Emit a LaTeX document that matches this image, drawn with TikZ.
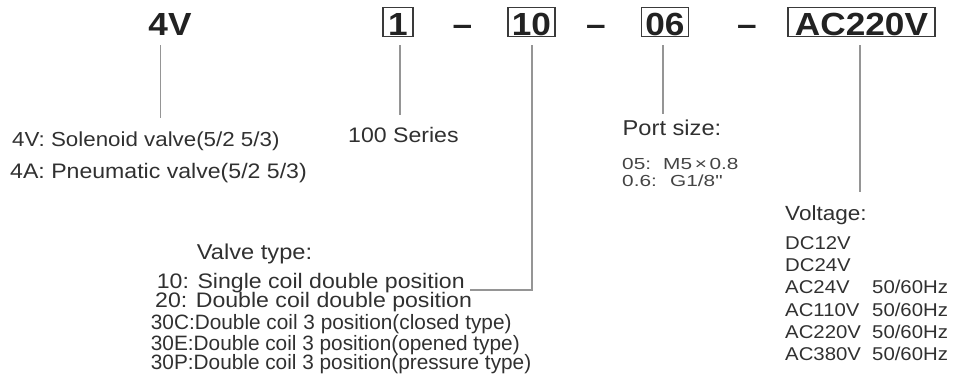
\documentclass[tikz,border=0pt]{standalone}
\usepackage{fontspec}
\setmainfont{Liberation Sans}[FakeStretch=1.1]
\newfontfamily\portfont{Liberation Sans}[FakeStretch=1.3]
\newfontfamily\narrowfont{Liberation Sans}
\definecolor{txt}{HTML}{303030}
\definecolor{txtl}{HTML}{444444}
\definecolor{boldc}{HTML}{222222}
\definecolor{boxc}{HTML}{3A3A3A}
\definecolor{linec}{HTML}{959595}
\begin{document}
\begin{tikzpicture}[x=1pt,y=-1pt,
  lbl/.style={anchor=base west, inner sep=0pt, text=txt, font=\fontsize{21}{25}\selectfont},
  small/.style={anchor=base west, inner sep=0pt, text=txt, font=\narrowfont\fontsize{20.8}{24}\selectfont},
  volt/.style={anchor=base west, inner sep=0pt, text=txt, font=\fontsize{18.5}{22}\selectfont},
  port/.style={anchor=base west, inner sep=0pt, text=txtl, font=\portfont\fontsize{16}{18}\selectfont},
  code/.style={anchor=base, inner sep=0pt, text=boldc, font=\bfseries\fontsize{32}{32}\selectfont},
  codebox/.style={code, draw=boxc, line width=1.4pt, inner xsep=0pt, text height=27.5pt, text depth=1.5pt},
  conn/.style={draw=linec, line width=1.2pt}]
\useasboundingbox (0,0) rectangle (954,382);

% top code row
\node[code] (v4) at (170,35.3) {4V};
\node[codebox, minimum width=30pt] (b1) at (398,35.3) {1};
\node[code] (d1) at (462.5,35.3) {–};
\node[codebox, minimum width=47pt] (b10) at (531.5,35.3) {10};
\node[code] (d2) at (596,35.3) {–};
\node[codebox, minimum width=46.6pt] (b06) at (665,35.3) {06};
\node[code] (d3) at (747,35.3) {–};
\node[codebox, minimum width=147pt] (bac) at (861.5,35.3) {AC220V};

% connector end points
\coordinate (e4v) at (160.5,118);
\coordinate (e1) at (400,115);
\coordinate (e10a) at (532,290);
\coordinate (e10b) at (470,290);
\coordinate (e06) at (663,114);
\coordinate (eac) at (860,192);

\draw[conn] (e4v |- v4.south) ++(0,10) -- (e4v);
\draw[conn] (e1 |- b1.south) ++(0,8) -- (e1);
\draw[conn] (e10a |- b10.south) ++(0,8) -- (e10a) -- (e10b);
\draw[conn] (e06 |- b06.south) ++(0,8) -- (e06);
\draw[conn] (eac |- bac.south) ++(0,8) -- (eac);

% series description
\node[lbl, font=\fontsize{20.3}{25}\selectfont] (sol) at (12,146.5) {4V: Solenoid valve(5/2 5/3)};
\node[lbl] (pne) at (10,178.5) {4A: Pneumatic valve(5/2 5/3)};
\node[lbl] (ser) at (348,143) {100 Series};

% port size
\node[lbl, font=\fontsize{21.5}{25}\selectfont] (pt) at (622.5,136) {Port size:};
\node[port] (p1) at (622,170) {05:};
\node[port] (p1b) at (663,170) {M5\,×\,0.8};
\node[port] (p2) at (622,186.7) {0.6:};
\node[port] (p2b) at (670,186.7) {G1/8"};

% voltage
\node[lbl, font=\fontsize{20.5}{25}\selectfont] (vt) at (785,220.7) {Voltage:};
\node[volt] (v1) at (785,249.3) {DC12V};
\node[volt] (v2) at (785,271.7) {DC24V};
\node[volt] (v3) at (785,294) {AC24V};
\node[volt] (v4r) at (785,316.5) {AC110V};
\node[volt] (v5) at (785,338.5) {AC220V};
\node[volt] (v6) at (785,360.7) {AC380V};
\node[volt] (h3) at (872,294) {50/60Hz};
\node[volt] (h4) at (872,316.5) {50/60Hz};
\node[volt] (h5) at (872,338.5) {50/60Hz};
\node[volt] (h6) at (872,360.7) {50/60Hz};

% valve type
\node[lbl, font=\fontsize{21.5}{25}\selectfont] (vty) at (196.7,259.3) {Valve type:};
\node[lbl] (t10) at (156.7,288.5) {10: Single coil double position};
\node[lbl] (t20) at (155,308) {20: Double coil double position};
\node[small] (t30c) at (150.7,329.5) {30C:Double coil 3 position(closed type)};
\node[small] (t30e) at (150.7,350) {30E:Double coil 3 position(opened type)};
\node[small] (t30p) at (150.7,370) {30P:Double coil 3 position(pressure type)};
\end{tikzpicture}
\end{document}
